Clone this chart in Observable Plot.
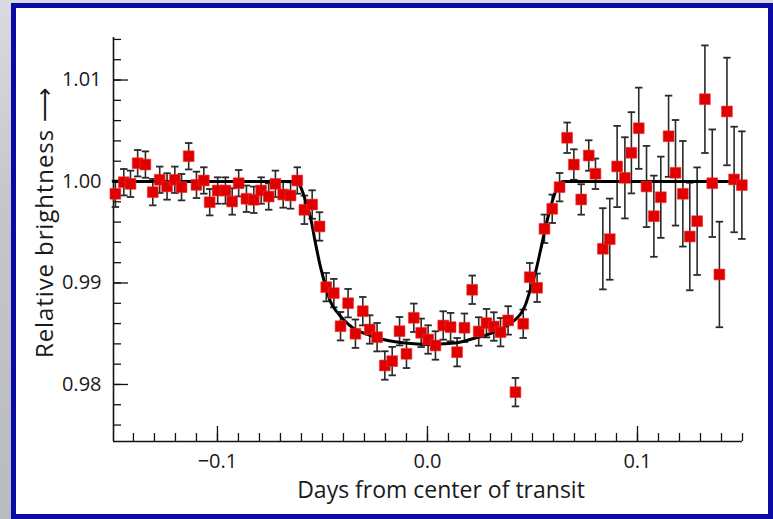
<!DOCTYPE html>
<html>
<head>
<meta charset="utf-8">
<script src="https://cdn.jsdelivr.net/npm/d3@7"></script>
<script src="https://cdn.jsdelivr.net/npm/@observablehq/plot@0.6"></script>
<style>
  html, body { margin: 0; padding: 0; }
  #bg { position: relative; width: 773px; height: 519px; overflow: hidden;
        background: linear-gradient(to bottom, #d9dbe0 0%, #c4c6cc 40%, #b9bbc2 100%); }
  #frame { position: absolute; left: 11px; top: 3px; width: 762px; height: 516px;
           box-sizing: border-box; border: 5px solid #0b0ba3; background: #ffffff; }
  #chart { position: absolute; left: 0; top: 0; }
</style>
</head>
<body>
<div id="bg"><div id="frame"></div><div id="chart"></div></div>
<script>
// Observed data points (days from center of transit, relative brightness, error)
const days = [
  -0.1486, -0.1446, -0.1414, -0.1380, -0.1343, -0.1308, -0.1275, -0.1240, -0.1203, -0.1171,
  -0.1137, -0.1100, -0.1065, -0.1037, -0.0999, -0.0962, -0.0930, -0.0899, -0.0862, -0.0827,
  -0.0792, -0.0756, -0.0724, -0.0687, -0.0652, -0.0620,
  -0.0586, -0.0549, -0.0514, -0.0482, -0.0446, -0.0414, -0.0378, -0.0343, -0.0308, -0.0275,
  -0.0240, -0.0203, -0.0168, -0.0133, -0.0100, -0.0065, -0.0030, 0.0003, 0.0038, 0.0075,
  0.0110, 0.0141, 0.0176, 0.0213, 0.0244, 0.0281, 0.0316, 0.0348, 0.0384, 0.0419,
  0.0456, 0.0487, 0.0522, 0.0557, 0.0594, 0.0629, 0.0665, 0.0697, 0.0732, 0.0768, 0.0800,
  0.0835, 0.0868, 0.0903, 0.0940, 0.0971, 0.1006, 0.1043, 0.1078, 0.1111, 0.1148,
  0.1181, 0.1216, 0.1249, 0.1284, 0.1321, 0.1356, 0.1390, 0.1426, 0.1460, 0.1497
];
const brightness = [
  0.99879, 0.99993, 0.99977, 1.00180, 1.00167, 0.99895, 1.00017, 0.99951, 1.00017, 0.99944,
  1.00249, 0.99967, 1.00010, 0.99796, 0.99911, 0.99911, 0.99803, 0.99983, 0.99830, 0.99820,
  0.99911, 0.99852, 0.99977, 0.99872, 0.99862, 1.00010,
  0.99721, 0.99773, 0.99557, 0.98959, 0.98900, 0.98574, 0.98801, 0.98500, 0.98722, 0.98542,
  0.98466, 0.98187, 0.98230, 0.98525, 0.98302, 0.98657, 0.98509, 0.98443, 0.98384, 0.98581,
  0.98565, 0.98318, 0.98559, 0.98933, 0.98522, 0.98604, 0.98571, 0.98515, 0.98631, 0.97924,
  0.98598, 0.99057, 0.98953, 0.99534, 0.99731, 0.99944, 1.00431, 1.00167, 0.99823, 1.00256, 1.00076,
  0.99337, 0.99432, 1.00148, 1.00036, 1.00283, 1.00525, 0.99951, 0.99658, 0.99845, 1.00446,
  1.00086, 0.99879, 0.99458, 0.99609, 1.00811, 0.99983, 0.99084, 1.00690, 1.00020, 0.99964
];
const errors = [
  0.0013, 0.0013, 0.0013, 0.0013, 0.0013, 0.0013, 0.0013, 0.0013, 0.0013, 0.0013,
  0.0013, 0.0013, 0.0013, 0.0013, 0.0013, 0.0013, 0.0013, 0.0013, 0.0013, 0.0013,
  0.0013, 0.0013, 0.0013, 0.0013, 0.0013, 0.0013,
  0.0014, 0.0014, 0.0014, 0.0014, 0.0014, 0.0014, 0.0014, 0.0014, 0.0014, 0.0014,
  0.0014, 0.0014, 0.0014, 0.0014, 0.0014, 0.0014, 0.0014, 0.0014, 0.0014, 0.0014,
  0.0014, 0.0014, 0.0014, 0.0014, 0.0014, 0.0014, 0.0014, 0.0014, 0.0014, 0.0014,
  0.0014, 0.0014, 0.0014, 0.0014, 0.0014, 0.0014, 0.0015, 0.0015, 0.0015, 0.0015, 0.0015,
  0.0040, 0.0040, 0.0040, 0.0040, 0.0040, 0.0040, 0.0040, 0.0040, 0.0040, 0.0040,
  0.0052, 0.0052, 0.0053, 0.0053, 0.0053, 0.0053, 0.0052, 0.0053, 0.0052, 0.0053
];

// Model transit curve
const curveDays = [
  -0.1495, -0.0624, -0.0605, -0.0581, -0.0557, -0.0533, -0.0510, -0.0486, -0.0462, -0.0433,
  -0.0400, -0.0352, -0.0286, -0.0210, -0.0129, -0.0048, 0.0029, 0.0095, 0.0148, 0.0219,
  0.0300, 0.0362, 0.0419, 0.0448, 0.0467, 0.0490, 0.0514, 0.0538, 0.0562, 0.0586,
  0.0610, 0.0629, 0.0648, 0.1500
];
const curveBrightness = [
  1.00000, 1.00000, 0.99951, 0.99813, 0.99645, 0.99389, 0.99163, 0.98975, 0.98818, 0.98719,
  0.98640, 0.98552, 0.98493, 0.98443, 0.98414, 0.98399, 0.98394, 0.98404, 0.98414, 0.98453,
  0.98502, 0.98562, 0.98640, 0.98709, 0.98788, 0.98936, 0.99103, 0.99320, 0.99547, 0.99744,
  0.99901, 0.99980, 1.00000, 1.00000
];

// Axis ticks
const xMajorTicks = [-0.1, 0.0, 0.1];
const xMinorTicks = d3.range(-14, 16).map(i => i / 100);
const yMajorTicks = [0.98, 0.99, 1.00, 1.01];
const yMinorTicks = d3.range(488, 508).map(i => i / 500);
const xTitle = "Days from center of transit";
const yTitle = "Relative brightness \u27F6";

const points = days.map((d, i) => ({x: d, y: brightness[i], e: errors[i]}));
const curve = curveDays.map((d, i) => ({x: d, y: curveBrightness[i]}));

const xDomain = [-0.1495, 0.1500];
const yDomain = [0.97438, 1.01419];

const capSymbol = {
  draw(context, size) {
    const w = Math.sqrt(size) * 0.6;
    context.moveTo(-w, 0);
    context.lineTo(w, 0);
  }
};

const font = "'Open Sans', 'Noto Sans', sans-serif";
const errColor = "#2a2a2a";
const textColor = "#1a1a1a";

const chart = Plot.plot({
  width: 773,
  height: 519,
  marginLeft: 113,
  marginRight: 31,
  marginTop: 37,
  marginBottom: 78,
  x: {domain: xDomain, label: null},
  y: {domain: yDomain, label: null},
  style: {fontFamily: font, fontSize: "20px", color: textColor, background: "transparent", overflow: "visible"},
  marks: [
    // axes: minor ticks, major ticks, labels
    Plot.axisX(xMinorTicks, {anchor: "bottom", tickSize: -8, text: null, strokeWidth: 1.3, stroke: "#111"}),
    Plot.axisX(xMajorTicks, {anchor: "bottom", tickSize: -15, text: null, strokeWidth: 1.3, stroke: "#111"}),
    Plot.axisX(xMajorTicks, {anchor: "bottom", tickSize: 0, tickPadding: 12, tickFormat: d3.format(".1f"), fontSize: 20, fill: textColor}),
    Plot.axisY(yMinorTicks, {anchor: "left", tickSize: -8, text: null, strokeWidth: 1.3, stroke: "#111"}),
    Plot.axisY(yMajorTicks, {anchor: "left", tickSize: -15, text: null, strokeWidth: 1.3, stroke: "#111"}),
    Plot.axisY(yMajorTicks, {anchor: "left", tickSize: 0, tickPadding: 12, tickFormat: d3.format(".2f"), fontSize: 20, fill: textColor}),
    Plot.ruleX([xDomain[0]], {stroke: "#111", strokeWidth: 1.6}),
    Plot.ruleY([yDomain[0]], {stroke: "#111", strokeWidth: 1.6}),
    // titles
    Plot.text([xTitle], {frameAnchor: "bottom", textAnchor: "middle", dx: 13, dy: 56, fontSize: 23, fill: textColor}),
    Plot.text([yTitle], {frameAnchor: "left", textAnchor: "middle", rotate: -90, dx: -68, dy: -17, fontSize: 24, fill: textColor, className: "ytitle"}),
    // error bars
    Plot.ruleX(points, {x: "x", y1: d => d.y - d.e, y2: d => d.y + d.e, stroke: errColor, strokeWidth: 1.6}),
    Plot.dot(points, {x: "x", y: d => d.y + d.e, symbol: capSymbol, r: 3.5, fill: "none", stroke: errColor, strokeWidth: 1.8}),
    Plot.dot(points, {x: "x", y: d => d.y - d.e, symbol: capSymbol, r: 3.5, fill: "none", stroke: errColor, strokeWidth: 1.8}),
    // model curve
    Plot.line(curve, {x: "x", y: "y", stroke: "#000", strokeWidth: 3, curve: "monotone-x"}),
    // data squares
    Plot.dot(points, {x: "x", y: "y", symbol: "square", r: 6.1, fill: "#e10000", stroke: "#f03030", strokeWidth: 0.6})
  ]
});
// loosen tracking of the y title slightly, as in the original typesetting
d3.select(chart).selectAll("text").filter(function() { return this.textContent === yTitle; })
  .attr("letter-spacing", "0.9px");
document.getElementById("chart").appendChild(chart);
</script>
</body>
</html>
